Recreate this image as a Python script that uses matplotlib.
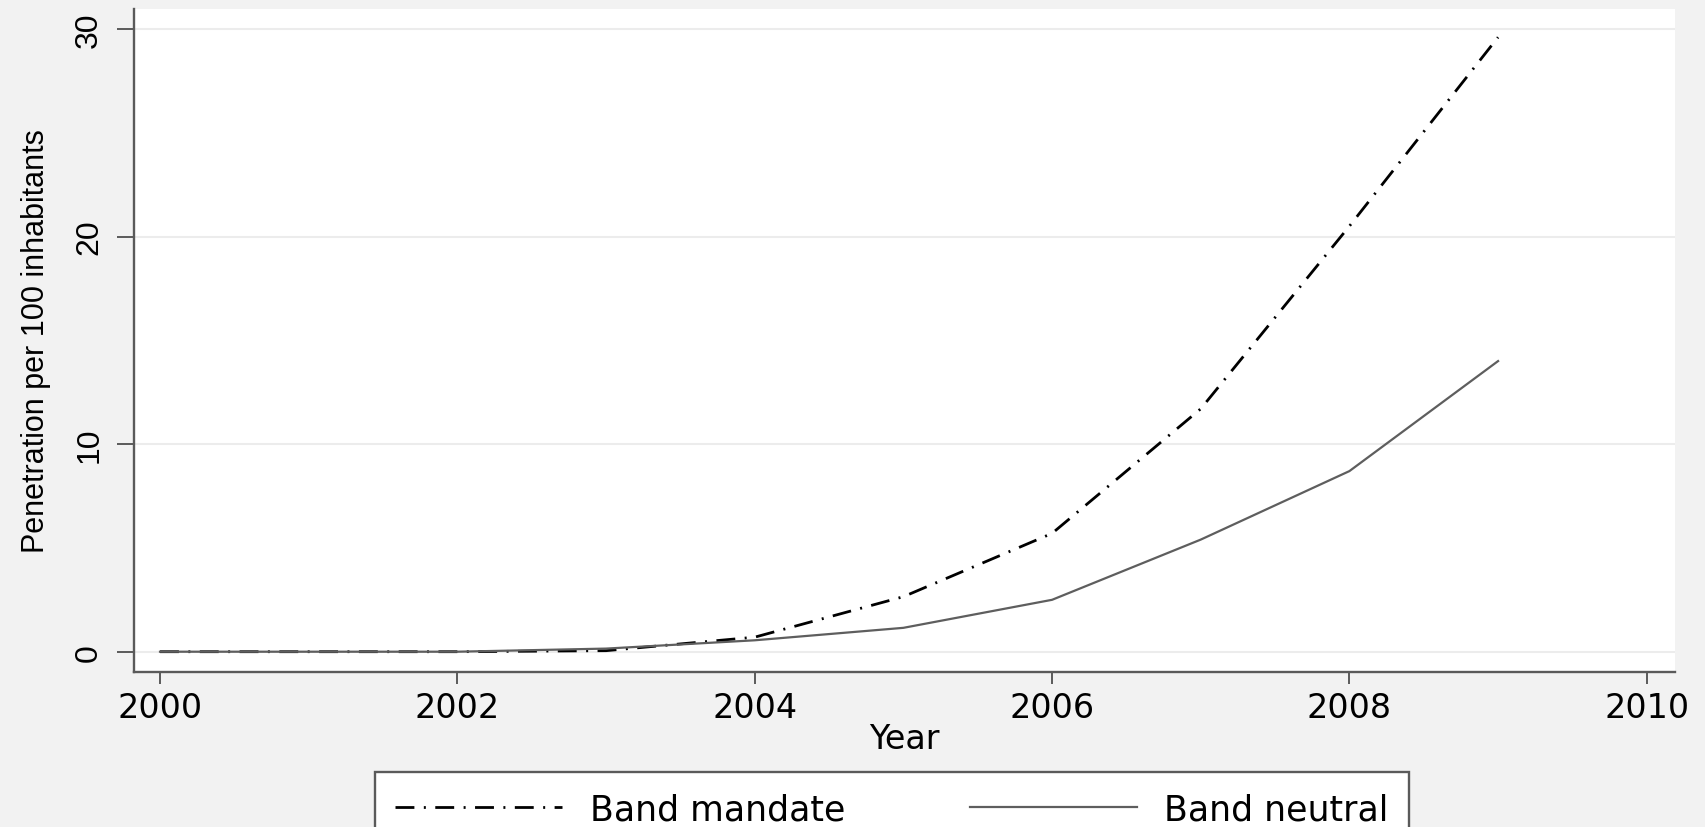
import matplotlib
matplotlib.use('Agg')
import matplotlib.pyplot as plt

# data
years = [2000, 2001, 2002, 2003, 2004, 2005, 2006, 2007, 2008, 2009]
band_mandate = [0.0, 0.0, 0.0, 0.05, 0.7, 2.65, 5.7, 11.7, 20.5, 29.6]
band_neutral = [0.0, 0.0, 0.0, 0.15, 0.55, 1.15, 2.5, 5.4, 8.7, 14.0]
x_ticks = [2000, 2002, 2004, 2006, 2008, 2010]
y_ticks = [0, 10, 20, 30]

bg = '#f2f2f2'
axis_col = '#5a5a5a'

fig = plt.figure(figsize=(17.05, 8.28), dpi=100, facecolor=bg)
ax = fig.add_axes([134 / 1705, 1 - 672.7 / 828, (1675 - 134) / 1705, (672.7 - 10) / 828])
ax.set_facecolor('white')

# grid
for v in y_ticks:
    ax.axhline(v, color='#ececec', lw=1.5, zorder=0)

ax.plot(years, band_mandate, color='black', lw=2.0,
        linestyle=(0, (6.8, 3.4, 0.72, 3.4)), label='Band mandate')
ax.plot(years, band_neutral, color='#5e5e5e', lw=1.6, label='Band neutral')

ax.set_xlim(1999.825, 2010.19)
ax.set_ylim(-0.963, 30.96)

for s in ['top', 'right']:
    ax.spines[s].set_visible(False)
for s in ['left', 'bottom']:
    ax.spines[s].set_color(axis_col)
    ax.spines[s].set_linewidth(1.7)

ax.set_xticks(x_ticks)
ax.set_yticks(y_ticks)
ax.tick_params(axis='x', length=8.6, width=1.4, color=axis_col, pad=5,
               labelsize=24)
ax.tick_params(axis='y', length=12.5, width=1.4, color=axis_col, pad=9,
               labelsize=23)
for lab in ax.get_xticklabels():
    lab.set_fontfamily('DejaVu Sans')
for lab in ax.get_yticklabels():
    lab.set_fontfamily('Liberation Sans')
    lab.set_rotation(90)
    lab.set_verticalalignment('center')

ax.set_xlabel('Year', fontsize=24, family='DejaVu Sans')
ax.xaxis.set_label_coords(0.5, -0.076)
ax.set_ylabel('Penetration per 100 inhabitants', fontsize=22, family='Liberation Sans')
ax.yaxis.set_label_coords(-0.054, 0.5)

leg = fig.legend(loc='upper left', bbox_to_anchor=(375 / 1705, 1 - 773 / 828),
                 ncol=2, frameon=True, fancybox=False, borderaxespad=0,
                 borderpad=0.58, handlelength=4.8, handletextpad=0.8,
                 columnspacing=3.6, prop={'family': 'DejaVu Sans', 'size': 25})
leg.get_frame().set_edgecolor(axis_col)
leg.get_frame().set_linewidth(1.7)
leg.get_frame().set_facecolor('white')
leg.get_frame().set_alpha(1)

fig.savefig('out.png', dpi=100, facecolor=bg)
